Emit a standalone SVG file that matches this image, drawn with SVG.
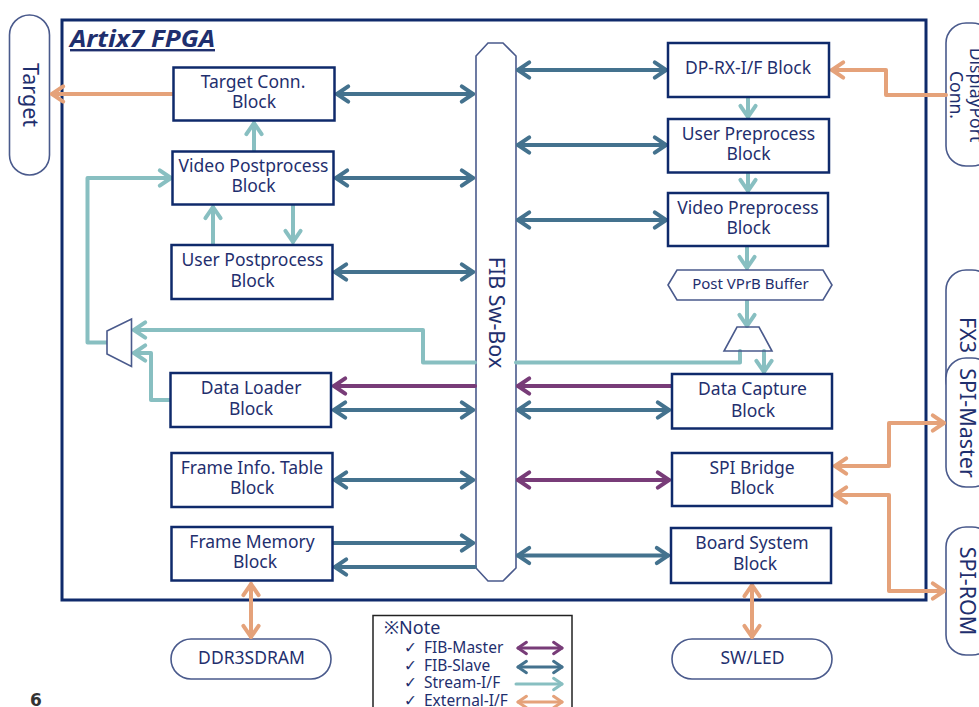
<svg xmlns="http://www.w3.org/2000/svg" width="979" height="707" viewBox="0 0 979 707">
<style>
text{font-family:"Noto Sans","DejaVu Sans",sans-serif;font-size:17.500px;fill:#1f2f6e;text-anchor:middle}
.r{font-size:21.500px}
.b rect{fill:#fff;stroke:#0f2a6b;stroke-width:2.500}
.s{fill:#fff;stroke:#4a5a8c;stroke-width:1.600}
.l{fill:none;stroke-width:4;stroke-linecap:round;stroke-linejoin:round}
.fm{stroke:#783c78;marker-start:url(#mp);marker-end:url(#mp)}
.fm1{stroke:#783c78;marker-end:url(#mp)}
.fs{stroke:#44728e;marker-start:url(#mb);marker-end:url(#mb)}
.fs1{stroke:#44728e;marker-end:url(#mb)}
.st{stroke:#88bfc1;marker-end:url(#mt)}
.st0{stroke:#88bfc1}
.ex{stroke:#e5a27a;marker-start:url(#mo);marker-end:url(#mo)}
.ex1{stroke:#e5a27a;marker-end:url(#mo)}
.lg{font-size:15.500px;text-anchor:start}
.h{fill:none;stroke-width:1;stroke-linecap:round;stroke-linejoin:round}
</style>
<defs>
<marker id="mp" markerWidth="8" markerHeight="8" refX="0" refY="0" viewBox="-4 -3 8 6" orient="auto-start-reverse"><path class="h" stroke="#783c78" d="M-2.800,-1.900L0,0L-2.800,1.900"/></marker>
<marker id="mb" markerWidth="8" markerHeight="8" refX="0" refY="0" viewBox="-4 -3 8 6" orient="auto-start-reverse"><path class="h" stroke="#44728e" d="M-2.800,-1.900L0,0L-2.800,1.900"/></marker>
<marker id="mt" markerWidth="8" markerHeight="8" refX="0" refY="0" viewBox="-4 -3 8 6" orient="auto-start-reverse"><path class="h" stroke="#88bfc1" d="M-2.800,-1.900L0,0L-2.800,1.900"/></marker>
<marker id="mo" markerWidth="8" markerHeight="8" refX="0" refY="0" viewBox="-4 -3 8 6" orient="auto-start-reverse"><path class="h" stroke="#e5a27a" d="M-2.800,-1.900L0,0L-2.800,1.900"/></marker>
</defs>
<rect width="979" height="707" fill="#fff"/>
<g id="fpga"><rect x="62" y="20" width="864" height="580" fill="#fff" stroke="#0f2a6b" stroke-width="3"/>
<text x="70" y="47" textLength="145" lengthAdjust="spacingAndGlyphs" style="font-size:24px;font-weight:bold;font-style:italic;text-decoration:underline;text-anchor:start">Artix7 FPGA</text></g>

<g id="target"><rect class="s" x="9.500" y="15" width="40" height="160" rx="20"/><text class="r" transform="translate(23,95) rotate(90)">Target</text></g>
<g id="displayport"><rect class="s" x="946" y="23" width="46" height="143" rx="20"/><text transform="translate(970,95) rotate(90)">DisplayPort</text><text transform="translate(950,95) rotate(90)">Conn.</text></g>
<g id="fx3"><rect class="s" x="946" y="270" width="46" height="130" rx="20"/><text class="r" transform="translate(960,335) rotate(90)">FX3</text></g>
<g id="spi-master"><rect class="s" x="946" y="358" width="46" height="129" rx="20"/><text class="r" transform="translate(960,423) rotate(90)">SPI-Master</text></g>
<g id="spi-rom"><rect class="s" x="946" y="527" width="46" height="128" rx="20"/><text class="r" transform="translate(960,591) rotate(90)">SPI-ROM</text></g>
<g id="ddr3"><rect class="s" x="171" y="639" width="160" height="40" rx="20"/><text x="251.500" y="664">DDR3SDRAM</text></g>
<g id="swled"><rect class="s" x="672" y="639" width="160" height="40" rx="20"/><text x="752.500" y="664">SW/LED</text></g>

<g id="fib-sw-box"><path class="s" d="M476,56L488,43H503L516,56V568L503,581H488L476,568Z"/><text class="r" transform="translate(489,312.500) rotate(90)">FIB Sw-Box</text></g>

<g id="connectors">
<path class="l ex1" d="M173,94H52"/>
<path class="l fs" d="M337,94H473"/>
<path class="l fs" d="M336,178H473"/>
<path class="l fs" d="M335,272H473"/>
<path class="l fs" d="M334,410H473"/>
<path class="l fs" d="M335,480H473"/>
<path class="l fs1" d="M334,543H473"/>
<path class="l fs1" d="M475,567H335"/>
<path class="l fs" d="M518,70H666"/>
<path class="l fs" d="M518,145H666"/>
<path class="l fs" d="M518,220H666"/>
<path class="l fs" d="M518,410H669"/>
<path class="l fs" d="M518,555.500H668"/>
<path class="l fm1" d="M475,386H334"/>
<path class="l fm1" d="M671,386H518"/>
<path class="l fm" d="M518,480H669"/>
<path class="l st" d="M254,150V123"/>
<path class="l st" d="M107,342.500H87.500V178H171"/>
<path class="l st" d="M213,244V207"/>
<path class="l st" d="M293,205V242"/>
<path class="l st" d="M475,362.500H423V330H134"/>
<path class="l st" d="M170,400H151V353H134"/>
<path class="l st0" d="M516,362.500H740V351"/>
<path class="l st" d="M764,351V372"/>
<path class="l st" d="M748,97V117"/>
<path class="l st" d="M748,172V191"/>
<path class="l st" d="M747,246V268"/>
<path class="l st" d="M747,300V326"/>
<path class="l ex1" d="M946,95H886V70H832"/>
<path class="l ex" d="M251,584V637"/>
<path class="l ex" d="M752,585V637"/>
<path class="l ex" d="M835,466H889V423H944"/>
<path class="l ex" d="M835,495H889V591H944"/>
</g>

<g id="mux-left"><path class="s" d="M107,331L131.500,319V366.500L107,354Z"/></g>
<g id="mux-right"><path class="s" fill-opacity="0" d="M737,327H759L772,351H724Z"/></g>

<g id="target-conn" class="b"><rect x="173.500" y="67.500" width="161" height="53"/><text x="253" y="88">Target Conn.</text><text x="254" y="108">Block</text></g>
<g id="video-post" class="b"><rect x="172.500" y="151.500" width="161" height="53"/><text x="253.500" y="172">Video Postprocess</text><text x="253.500" y="192">Block</text></g>
<g id="user-post" class="b"><rect x="171.500" y="245" width="161" height="54"/><text x="252.500" y="266">User Postprocess</text><text x="252.500" y="287">Block</text></g>
<g id="data-loader" class="b"><rect x="170.500" y="373" width="160.500" height="54"/><text x="251" y="394">Data Loader</text><text x="251" y="415">Block</text></g>
<g id="frame-info" class="b"><rect x="171.500" y="453" width="161" height="54"/><text x="252" y="474">Frame Info. Table</text><text x="252" y="494">Block</text></g>
<g id="frame-memory" class="b"><rect x="171.500" y="527" width="161" height="53.500"/><text x="252" y="548">Frame Memory</text><text x="255" y="568">Block</text></g>
<g id="dp-rx" class="b"><rect x="668" y="43" width="161" height="54"/><text x="748" y="74">DP-RX-I/F Block</text></g>
<g id="user-pre" class="b"><rect x="668" y="119" width="161" height="53.500"/><text x="748.500" y="140">User Preprocess</text><text x="748.500" y="160">Block</text></g>
<g id="video-pre" class="b"><rect x="668" y="193" width="160" height="53"/><text x="748" y="214">Video Preprocess</text><text x="748.500" y="234">Block</text></g>
<g id="post-vprb"><path class="s" d="M668,285L677,270H823L832,285L823,300H677Z"/><text x="750.500" y="289" style="font-size:15px">Post VPrB Buffer</text></g>
<g id="data-capture" class="b"><rect x="672" y="374" width="160" height="54.500"/><text x="752.500" y="395">Data Capture</text><text x="753" y="417">Block</text></g>
<g id="spi-bridge" class="b"><rect x="672" y="453" width="160" height="53"/><text x="752" y="474">SPI Bridge</text><text x="752" y="494">Block</text></g>
<g id="board-system" class="b"><rect x="671" y="528" width="160" height="55"/><text x="752" y="549">Board System</text><text x="755" y="570">Block</text></g>

<g id="legend"><rect x="373" y="615.500" width="199" height="110" fill="#fff" stroke="#222" stroke-width="1.500"/>
<text class="lg" x="384" y="634" style="font-size:18px">※Note</text>
<text class="lg" x="404" y="653">✓</text><text class="lg" x="424" y="653">FIB-Master</text>
<text class="lg" x="404" y="671">✓</text><text class="lg" x="424" y="671">FIB-Slave</text>
<text class="lg" x="404" y="688">✓</text><text class="lg" x="424" y="688">Stream-I/F</text>
<text class="lg" x="404" y="706">✓</text><text class="lg" x="424" y="706">External-I/F</text>
<path class="l fm" style="stroke-width:3" d="M518,648H562"/>
<path class="l fs" style="stroke-width:3" d="M518,667H562"/>
<path class="l st" style="stroke-width:3" d="M516,684H562"/>
<path class="l ex" style="stroke-width:3" d="M518,702H562"/></g>
<text x="36" y="706" style="font-family:'DejaVu Sans',sans-serif;font-size:17px;font-weight:bold;fill:#333">6</text>
</svg>
